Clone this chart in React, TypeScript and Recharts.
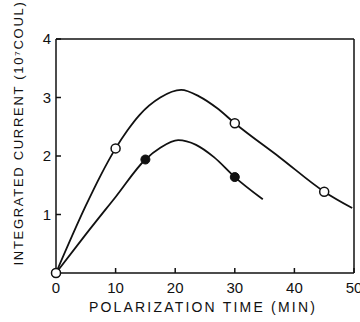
import { ComposedChart, Line, Scatter, XAxis, YAxis, ReferenceLine } from 'recharts';

// measured points
const openTimes = [0, 10, 30, 45];
const openCurrent = [0, 2.13, 2.56, 1.39];
const filledTimes = [0, 15, 30];
const filledCurrent = [0, 1.94, 1.64];

// hand-drawn curves through the points
const upperTimes = [0, 5, 7.5, 10, 12, 14, 17.5, 21, 24, 27, 30, 37.5, 45, 49.7];
const upperCurrent = [0, 1.15, 1.67, 2.13, 2.44, 2.7, 3.0, 3.13, 3.02, 2.82, 2.56, 1.98, 1.39, 1.11];
const lowerTimes = [0, 5, 10, 15, 17.5, 20.5, 23.5, 26.5, 30, 34.7];
const lowerCurrent = [0, 0.66, 1.3, 1.94, 2.14, 2.27, 2.19, 1.98, 1.64, 1.26];

const xTicks = [0, 10, 20, 30, 40, 50];
const yTicks = [0, 1, 2, 3, 4];

const zip = (xs: number[], ys: number[]) => xs.map((x, i) => ({ x, y: ys[i] }));

const FONT = '"Liberation Sans", Arial, sans-serif';

const YTitle = () => (
  <text
    x={18}
    y={133}
    transform="rotate(-90 18 133)"
    textAnchor="middle"
    dominantBaseline="central"
    fontFamily={FONT}
    fontSize={13}
    letterSpacing={1.7}
    fill="#111"
  >
    INTEGRATED CURRENT (10⁷COUL)
  </text>
);

const XTitle = () => (
  <text
    x={203}
    y={307}
    textAnchor="middle"
    dominantBaseline="central"
    fontFamily={FONT}
    fontSize={14}
    letterSpacing={2.2}
    fill="#111"
  >
    POLARIZATION TIME (MIN)
  </text>
);

export default function App() {
  const tick = { fill: '#111', fontSize: 15, fontFamily: FONT };
  return (
    <div style={{ position: 'absolute', left: 0, top: 0, background: '#fff' }}>
      <ComposedChart width={360} height={322} margin={{ top: 39, right: 6, bottom: 19, left: 16 }}>
        <XAxis
          type="number"
          dataKey="x"
          domain={[0, 50]}
          ticks={xTicks}
          height={30}
          tickSize={-5}
          tickMargin={14}
          tick={tick}
          stroke="#111"
          strokeWidth={1.5}
          interval={0}
          label={<XTitle />}
        />
        <YAxis
          type="number"
          dataKey="y"
          domain={[0, 4]}
          ticks={yTicks}
          tickFormatter={(v: number) => (v === 0 ? '' : String(v))}
          width={40}
          tickSize={-5}
          tickMargin={10}
          tick={tick}
          stroke="#111"
          strokeWidth={1.5}
          interval={0}
          label={<YTitle />}
        />
        <ReferenceLine y={4} stroke="#111" strokeWidth={1.5} />
        <ReferenceLine x={50} stroke="#111" strokeWidth={1.5} />
        <Line
          data={zip(upperTimes, upperCurrent)}
          dataKey="y"
          type="monotone"
          stroke="#111"
          strokeWidth={1.8}
          dot={false}
          activeDot={false}
          isAnimationActive={false}
        />
        <Line
          data={zip(lowerTimes, lowerCurrent)}
          dataKey="y"
          type="monotone"
          stroke="#111"
          strokeWidth={1.8}
          dot={false}
          activeDot={false}
          isAnimationActive={false}
        />
        <Scatter
          data={zip(filledTimes, filledCurrent)}
          fill="#111"
          stroke="#111"
          isAnimationActive={false}
        />
        <Scatter
          data={zip(openTimes, openCurrent)}
          fill="#fff"
          stroke="#111"
          strokeWidth={1.5}
          isAnimationActive={false}
        />
      </ComposedChart>
    </div>
  );
}
